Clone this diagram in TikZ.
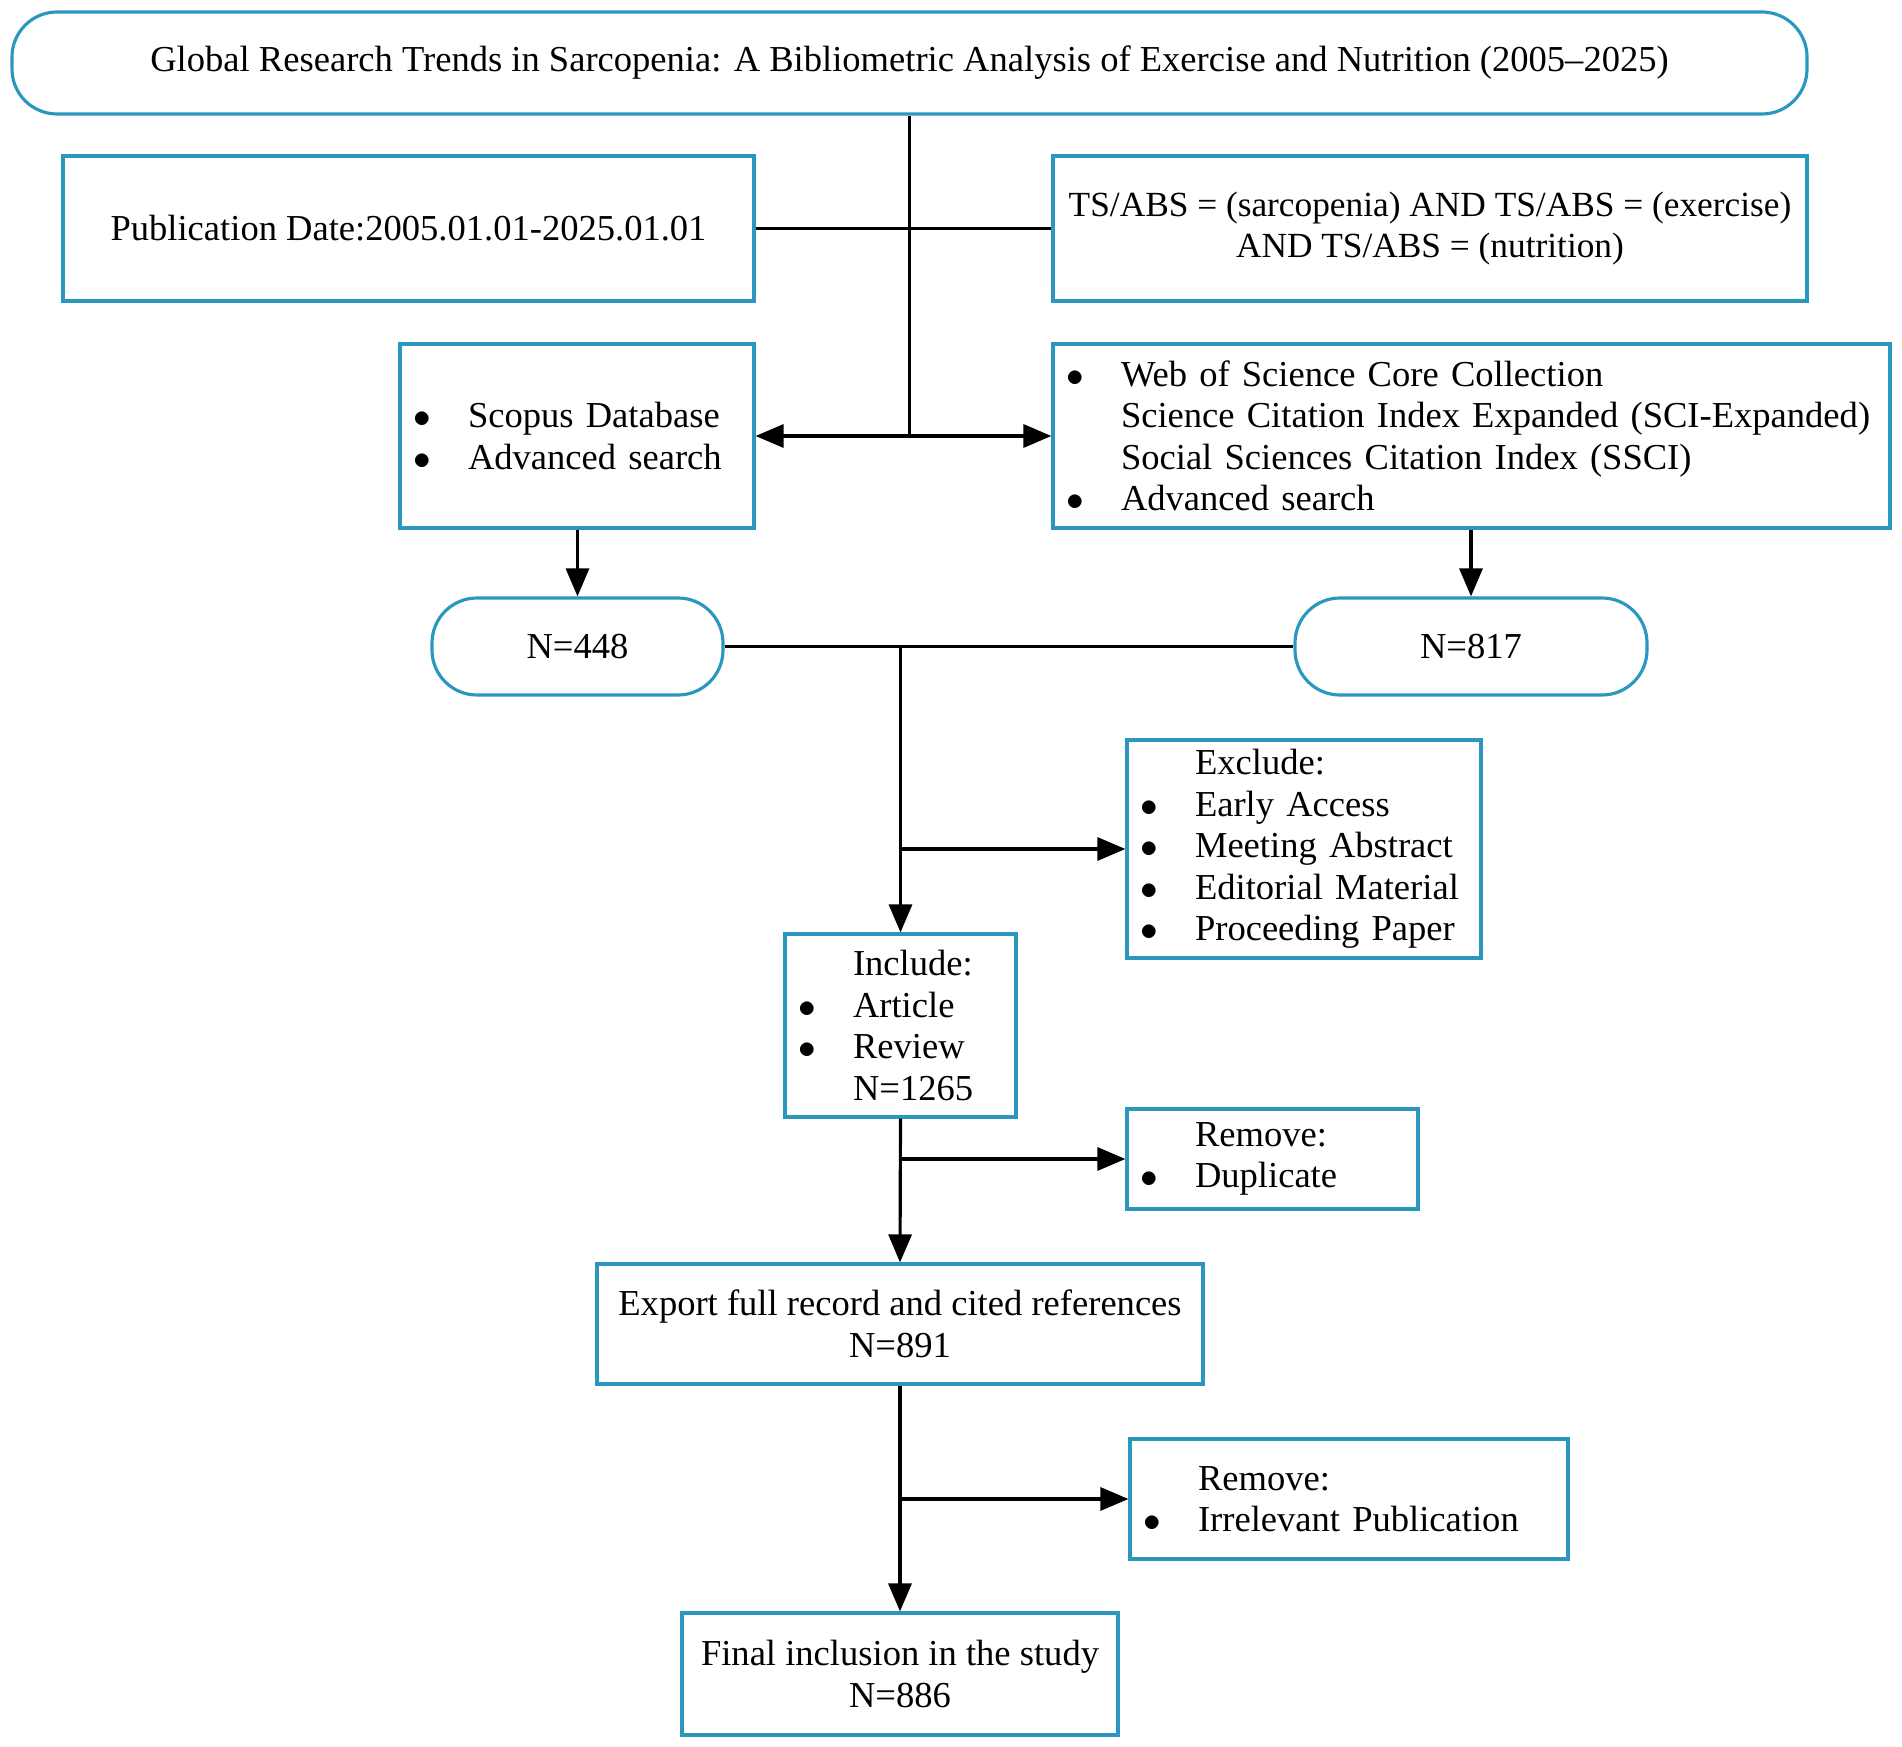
\documentclass[tikz,border=0pt]{standalone}
\usepackage{fontspec}
\setmainfont{Liberation Serif}
\usetikzlibrary{arrows.meta}
\definecolor{frameblue}{RGB}{42,152,190}
\newcommand\bul{\makebox[5.5mm][l]{$\bullet$}}
\newcommand\ind{\hspace*{5.5mm}}

\tikzstyle{every node}=[font=\fontsize{10.4}{11.8}\selectfont, inner xsep=1.3mm, inner ysep=0pt]
\tikzstyle{box}=[draw=frameblue, line width=0.9pt, rectangle, align=center]
\tikzstyle{pill}=[box, rounded corners=4.5mm]
\tikzstyle{list}=[box, align=left]
\tikzstyle{link}=[line width=0.9pt, black]
\tikzstyle{flow}=[link, -{Triangle[length=2.8mm, width=2.3mm]}]

\begin{document}
\begin{tikzpicture}
    \useasboundingbox (0,0) rectangle (19.02,-17.47);

    % top of the chart
    \node [pill, minimum width=17.95cm, minimum height=1.02cm] (title) at (9.095,-0.63)
        {Global Research Trends in Sarcopenia: A Bibliometric Analysis of Exercise and Nutrition (2005--2025)};
    \node [box, minimum width=6.91cm, minimum height=1.45cm] (pubdate) at (4.085,-2.285)
        {Publication Date:2005.01.01-2025.01.01};
    \node [box, font=\fontsize{10.05}{11.8}\selectfont, inner xsep=0pt, minimum width=7.54cm, minimum height=1.45cm] (query) at (14.30,-2.285)
        {TS/ABS = (sarcopenia) AND TS/ABS = (exercise)\\AND TS/ABS = (nutrition)};

    % databases
    \node [list, text width=3.28cm, minimum height=1.84cm] (scopus) at (5.77,-4.36)
        {\bul Scopus Database\\\bul Advanced search};
    \node [list, text width=8.11cm, minimum height=1.84cm] (wos) at (14.715,-4.36)
        {\bul Web of Science Core Collection\\
         \ind Science Citation Index Expanded (SCI-Expanded)\\
         \ind Social Sciences Citation Index (SSCI)\\
         \bul Advanced search};
    \node [pill, minimum width=2.91cm, minimum height=0.97cm] (n448) at (5.775,-6.465) {N=448};
    \node [pill, minimum width=3.52cm, minimum height=0.97cm] (n817) at (14.71,-6.465) {N=817};

    % screening
    \node [list, text width=3.28cm, minimum height=2.18cm] (exclude) at (13.04,-8.49)
        {\ind Exclude:\\\bul Early Access\\\bul Meeting Abstract\\\bul Editorial Material\\\bul Proceeding Paper};
    \node [list, text width=2.05cm, minimum height=1.83cm] (include) at (9.005,-10.255)
        {\ind Include:\\\bul Article\\\bul Review\\\ind N=1265};
    \node [list, text width=2.65cm, minimum height=1.0cm] (duplicate) at (12.725,-11.59)
        {\ind Remove:\\\bul Duplicate};
    \node [box, minimum width=6.06cm, minimum height=1.2cm] (export) at (9.0,-13.24)
        {Export full record and cited references\\N=891};
    \node [list, text width=4.12cm, minimum height=1.2cm] (irrelevant) at (13.49,-14.99)
        {\ind Remove:\\\bul Irrelevant Publication};
    \node [box, minimum width=4.36cm, minimum height=1.22cm] (final) at (9.0,-16.74)
        {Final inclusion in the study\\N=886};

    % connectors
    \coordinate (split) at (title.south |- scopus.east);
    \draw [link] (title.south) -- (split);
    \draw [link] (pubdate.east) -- (query.west);
    \draw [flow] (split) -- (scopus.east);
    \draw [flow] (split) -- (wos.west);
    \draw [flow] (scopus.south -| n448.north) -- (n448.north);
    \draw [flow] (wos.south -| n817.north) -- (n817.north);
    \draw [link] (n448.east) -- (n817.west);
    \coordinate (merge) at (include.north |- n448.east);
    \draw [flow] (merge) -- (include.north);
    \draw [flow] (include.north |- exclude.west) -- (exclude.west);
    \draw [flow] (include.south) -- (export.north);
    \draw [flow] (include.south |- duplicate.west) -- (duplicate.west);
    \draw [flow] (export.south) -- (final.north);
    \draw [flow] (export.south |- irrelevant.west) -- (irrelevant.west);
\end{tikzpicture}
\end{document}
